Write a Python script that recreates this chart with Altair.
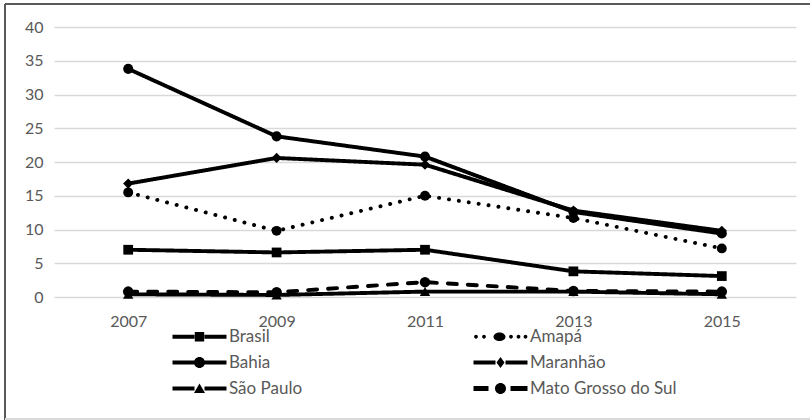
import altair as alt
import pandas as pd

# Survey years and the rate for each territory
years = ["2007", "2009", "2011", "2013", "2015"]
series = ["Brasil", "Amapá", "Bahia", "Maranhão", "São Paulo", "Mato Grosso do Sul"]
brasil = [7.0, 6.6, 7.0, 3.8, 3.1]
amapa = [15.5, 9.8, 15.0, 11.7, 7.2]
bahia = [33.8, 23.8, 20.8, 12.6, 9.4]
maranhao = [16.8, 20.6, 19.6, 12.8, 9.8]
sao_paulo = [0.4, 0.3, 0.8, 0.8, 0.4]
mato_grosso_do_sul = [0.8, 0.7, 2.2, 0.9, 0.8]

values_by_series = {
    "Brasil": brasil,
    "Amapá": amapa,
    "Bahia": bahia,
    "Maranhão": maranhao,
    "São Paulo": sao_paulo,
    "Mato Grosso do Sul": mato_grosso_do_sul,
}

rows = []
for name in series:
    for year, v in zip(years, values_by_series[name]):
        rows.append({"ano": year, "serie": name, "valor": v})
df = pd.DataFrame(rows)

FONT = "Lato"
GREY = "#595959"

# Line styles and marker shapes per series
dashes = [[1, 0], [0.1, 9.9], [1, 0], [1, 0], [1, 0], [9, 11]]
shapes = ["square", "circle", "circle", "diamond", "triangle-up", "circle"]
sizes = [95, 110, 115, 80, 85, 110]

# Legend symbols are drawn as custom paths: a short line with the marker in
# the middle. Coordinates below are in pixels from the symbol's left edge;
# Vega scales a custom path by sqrt(size) / 2, so they are converted here.
SYM = 16            # sqrt(symbolSize)
UNIT = SYM / 2      # pixels per path unit
MID = 27            # marker centre, the whole symbol is 54 px long


def _x(px):
    return round((px - UNIT) / UNIT, 4)


def _y(py):
    return round(py / UNIT, 4)


def rect(x0, x1, h):
    return f"M{_x(x0)},{_y(-h)}H{_x(x1)}V{_y(h)}H{_x(x0)}Z"


def ellipse(cx, rx, ry):
    a, b = _x(cx - rx), _x(cx + rx)
    r1, r2 = rx / UNIT, ry / UNIT
    return f"M{a},0A{r1},{r2} 0 1,1 {b},0A{r1},{r2} 0 1,1 {a},0Z"


def poly(points):
    head, *rest = points
    d = f"M{_x(head[0])},{_y(head[1])}"
    for px, py in rest:
        d += f"L{_x(px)},{_y(py)}"
    return d + "Z"


solid = rect(0, MID - 5, 2) + " " + rect(MID + 5, 54, 2)
square = rect(MID - 4.7, MID + 4.7, 4.7)
circle = ellipse(MID, 5.5, 5.5)
triangle = poly([(MID, -5), (MID + 5.5, 4.5), (MID - 5.5, 4.5)])
diamond = poly([(MID, -5.5), (MID + 4, 0), (MID, 5.5), (MID - 4, 0)])
dots = " ".join(ellipse(c, 1.9, 1.9) for c in (2.5, 10.5, 37.5, 45, 52))
flat_circle = ellipse(MID - 1, 6, 4.3)
dash_pair = rect(0, 15, 2.5) + " " + rect(37, 54, 2.5)
legend_symbol = {
    "Brasil": solid + " " + square,
    "Amapá": dots + " " + flat_circle,
    "Bahia": solid + " " + circle,
    "Maranhão": solid + " " + diamond,
    "São Paulo": solid + " " + triangle,
    "Mato Grosso do Sul": dash_pair + " " + circle,
}
# the legend fills its two columns top to bottom
legend_order = ["Brasil", "Bahia", "São Paulo", "Amapá", "Maranhão", "Mato Grosso do Sul"]

x_enc = alt.X(
    "ano:O",
    sort=years,
    scale=alt.Scale(type="point", padding=0.5),
    axis=alt.Axis(
        title=None,
        labelAngle=0,
        domain=False,
        ticks=False,
        grid=False,
        labelPadding=16,
        labelFont=FONT,
        labelFontSize=16,
        labelColor=GREY,
    ),
)
y_enc = alt.Y(
    "valor:Q",
    scale=alt.Scale(domain=[0, 40], nice=False),
    axis=alt.Axis(
        title=None,
        values=[0, 5, 10, 15, 20, 25, 30, 35, 40],
        domain=False,
        ticks=False,
        grid=True,
        gridColor="#d9d9d9",
        gridWidth=1.5,
        labelPadding=11,
        labelFont=FONT,
        labelFontSize=16,
        labelColor=GREY,
    ),
)

base = alt.Chart(df)

lines = base.mark_line(color="black", strokeWidth=3.9, strokeCap="round").encode(
    x=x_enc,
    y=y_enc,
    detail="serie:N",
    strokeDash=alt.StrokeDash(
        "serie:N", scale=alt.Scale(domain=series, range=dashes), legend=None
    ),
)

points = base.mark_point(filled=True, color="black", opacity=1).encode(
    x=x_enc,
    y=y_enc,
    shape=alt.Shape("serie:N", scale=alt.Scale(domain=series, range=shapes), legend=None),
    size=alt.Size("serie:N", scale=alt.Scale(domain=series, range=sizes), legend=None),
)

# Empty layer that only carries the legend
legend_layer = base.transform_filter("false").mark_point(
    filled=True, color="black", opacity=1
).encode(
    x=x_enc,
    y=y_enc,
    shape=alt.Shape(
        "serie:N",
        scale=alt.Scale(
            domain=legend_order, range=[legend_symbol[s] for s in legend_order]
        ),
        legend=alt.Legend(
            title=None,
            orient="none",
            legendX=118,
            legendY=301,
            columns=2,
            columnPadding=170,
            rowPadding=8,
            padding=0,
            symbolSize=SYM * SYM,
            symbolFillColor="black",
            symbolStrokeWidth=0,
            symbolOpacity=1,
            labelOffset=56 - SYM,
            labelFont=FONT,
            labelFontSize=17,
            labelColor=GREY,
            labelLimit=300,
        ),
    ),
)

frame = pd.DataFrame({"k": [0]})
left_edge = alt.Chart(frame).mark_rule(color=GREY, strokeWidth=2).encode(
    x=alt.value(-49), y=alt.value(-23), y2=alt.value(395)
)
top_edge = alt.Chart(frame).mark_rule(color=GREY, strokeWidth=2).encode(
    x=alt.value(-49), x2=alt.value(760), y=alt.value(-23)
)
bottom_edge = alt.Chart(frame).mark_rule(color="#d9d9d9", strokeWidth=2).encode(
    x=alt.value(-49), x2=alt.value(760), y=alt.value(392)
)

chart = (
    alt.layer(lines, points, legend_layer, left_edge, top_edge, bottom_edge)
    .resolve_scale(shape="independent", size="independent")
    .properties(
        width=742,
        height=270,
        autosize=alt.AutoSizeParams(type="none"),
        padding={"left": 54, "top": 27, "right": 14, "bottom": 123},
        background="white",
    )
    .configure_view(stroke=None)
)

chart.save("out.html", embed_options={"renderer": "svg", "actions": False})
